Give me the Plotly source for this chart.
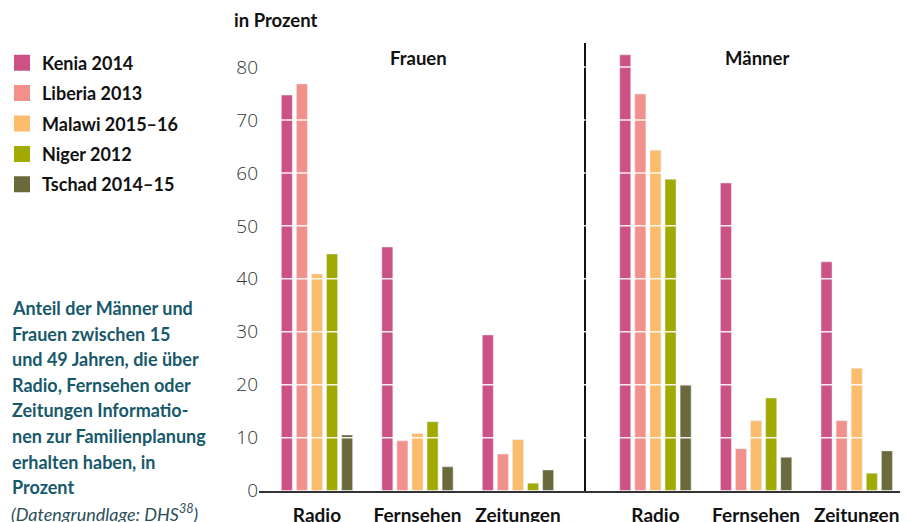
import plotly.graph_objects as go

categories = ["Radio", "Fernsehen", "Zeitungen"]
countries = ["Kenia 2014", "Liberia 2013", "Malawi 2015–16", "Niger 2012", "Tschad 2014–15"]
colors = ["#cc5286", "#f2908c", "#fbbd6c", "#a0aa00", "#6b6a3c"]

frauen_kenia = [74.7, 46.0, 29.4]
frauen_liberia = [76.8, 9.4, 6.9]
frauen_malawi = [40.9, 10.8, 9.6]
frauen_niger = [44.7, 13.0, 1.4]
frauen_tschad = [10.5, 4.5, 3.9]

maenner_kenia = [82.3, 58.1, 43.2]
maenner_liberia = [74.9, 7.9, 13.2]
maenner_malawi = [64.3, 13.2, 23.1]
maenner_niger = [58.8, 17.5, 3.3]
maenner_tschad = [20.1, 6.3, 7.5]

frauen = [frauen_kenia, frauen_liberia, frauen_malawi, frauen_niger, frauen_tschad]
maenner = [maenner_kenia, maenner_liberia, maenner_malawi, maenner_niger, maenner_tschad]

y_ticks = [0, 10, 20, 30, 40, 50, 60, 70, 80]

text_lines = [
    "Anteil der Männer und",
    "Frauen zwischen 15",
    "und 49 Jahren, die über",
    "Radio, Fernsehen oder",
    "Zeitungen Informatio-",
    "nen zur Familienplanung",
    "erhalten haben, in",
    "Prozent",
]
source_line = "<i>(Datengrundlage: DHS<sup>38</sup>)</i>"

W, H = 909, 522
TEAL = "#17596a"
FONT = "Lato"

fig = go.Figure()

for i, name in enumerate(countries):
    fig.add_trace(go.Bar(x=categories, y=frauen[i], marker_color=colors[i],
                         name=name, showlegend=False, xaxis="x", yaxis="y",
                         hoverinfo="skip"))
for i, name in enumerate(countries):
    fig.add_trace(go.Bar(x=categories, y=maenner[i], marker_color=colors[i],
                         name=name, showlegend=False, xaxis="x2", yaxis="y2",
                         hoverinfo="skip"))
# legend entries
for i, name in enumerate(countries):
    fig.add_trace(go.Scatter(x=[None], y=[None], mode="markers", name=name,
                             legendgroup=name,
                             marker=dict(symbol="square", size=20, color=colors[i]),
                             xaxis="x", yaxis="y"))

px_per_unit = 5.295
y_top = (490.6 - 43) / px_per_unit
ydom = [(H - 490.6) / H, (H - 43) / H]

common_x = dict(type="category", showline=True, linecolor="#333333", linewidth=2,
                showgrid=False, ticks="", ticklabelstandoff=7, automargin=False,
                tickfont=dict(family=FONT, size=19, color="#111111", weight="bold"),
                fixedrange=True)

fig.update_layout(
    width=W, height=H,
    margin=dict(l=0, r=0, t=0, b=0, autoexpand=False),
    paper_bgcolor="white", plot_bgcolor="white",
    barmode="group", bargap=0.25, bargroupgap=0.27,
    xaxis=dict(domain=[259 / W, 586 / W], range=[-0.577, 2.677], **common_x),
    xaxis2=dict(domain=[586 / W, 900 / W], range=[-0.69, 2.43], anchor="y2", **common_x),
    yaxis=dict(domain=ydom, range=[0, y_top], tickvals=y_ticks, showgrid=False,
               zeroline=False, showline=False, ticks="", automargin=False,
               tickfont=dict(family="Open Sans", size=19, color="#333333", weight=300),
               fixedrange=True),
    yaxis2=dict(domain=ydom, range=[0, y_top], anchor="x2", showgrid=False,
                zeroline=False, showline=True, linecolor="#111111", linewidth=1.5,
                showticklabels=False, ticks="", automargin=False, fixedrange=True),
    showlegend=True,
    legend=dict(x=2 / W, y=(H - 44.5) / H, xanchor="left", yanchor="top",
                font=dict(family=FONT, size=18, color="#111111", weight="bold"),
                tracegroupgap=4, bgcolor="rgba(0,0,0,0)", itemclick=False),
)

# white gridlines above the bars
for ref_x, ref_y in (("x domain", "y"), ("x2 domain", "y2")):
    for v in y_ticks[1:]:
        fig.add_shape(type="line", xref=ref_x, yref=ref_y, x0=0, x1=1, y0=v, y1=v,
                      line=dict(color="rgba(255,255,255,0.9)", width=1.5), layer="above")

def ypx(p):
    return (H - p) / H

fig.add_annotation(x=232 / W, y=ypx(20), xref="paper", yref="paper", xanchor="left",
                   yanchor="middle", showarrow=False, text="<b>in Prozent</b>",
                   font=dict(family=FONT, size=18.5, color="#111111"))
fig.add_annotation(x=418 / W, y=ypx(58), xref="paper", yref="paper", xanchor="center",
                   yanchor="middle", showarrow=False, text="<b>Frauen</b>",
                   font=dict(family=FONT, size=18.5, color="#111111"))
fig.add_annotation(x=757 / W, y=ypx(58), xref="paper", yref="paper", xanchor="center",
                   yanchor="middle", showarrow=False, text="<b>Männer</b>",
                   font=dict(family=FONT, size=18.5, color="#111111"))

for i, line in enumerate(text_lines):
    fig.add_annotation(x=10 / W, y=ypx(308 + i * 25.6), xref="paper", yref="paper",
                       xanchor="left", yanchor="middle", showarrow=False,
                       text="<b>" + line + "</b>",
                       font=dict(family=FONT, size=18, color=TEAL))
fig.add_annotation(x=9 / W, y=ypx(308 + len(text_lines) * 25.6), xref="paper", yref="paper",
                   xanchor="left", yanchor="middle", showarrow=False, text=source_line,
                   font=dict(family=FONT, size=18, color="#2a4f5a"))

fig.write_html("out.html", config={"displayModeBar": False},
               post_script="document.body.style.margin='0';document.body.style.overflow='hidden';")
